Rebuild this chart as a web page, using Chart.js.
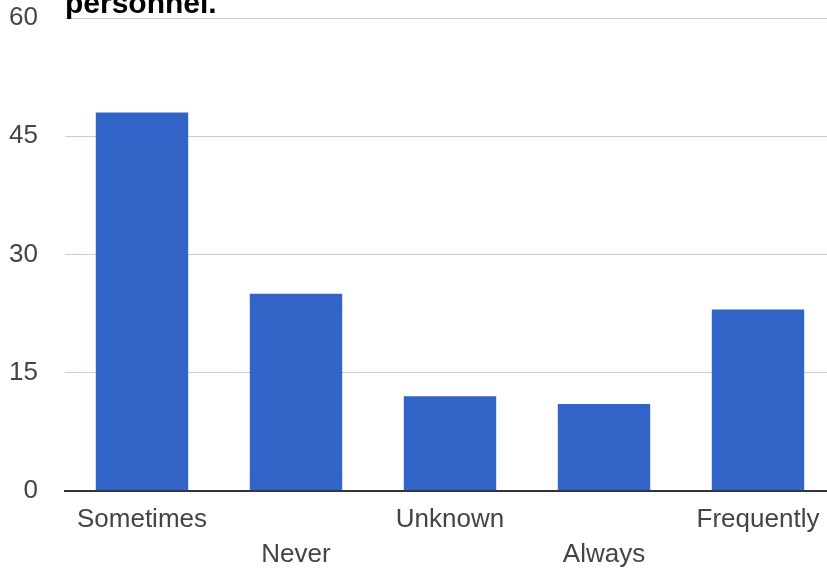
<!DOCTYPE html>
<html>
<head>
<meta charset="utf-8">
<script src="https://cdn.jsdelivr.net/npm/chart.js@4/dist/chart.umd.min.js"></script>
<style>
  html, body { margin: 0; padding: 0; background: #fff; overflow: hidden; width: 827px; height: 569px; }
  #wrap { position: absolute; left: 0; top: -30px; width: 840px; height: 613px; }
</style>
</head>
<body>
<div id="wrap"><canvas id="grafico"></canvas></div>
<script>
// categories (second-row labels are pushed down with an empty first line)
var categorias = ["Sometimes", ["", "Never"], "Unknown", ["", "Always"], "Frequently"];
var valores = [48, 25, 12, 11, 23];
var tituloLinhas = ["personnel."];
var eixoY = { min: 0, max: 60, passo: 15 };

var fonte = 'Arial, "Liberation Sans", sans-serif';

var config = {
    type: "bar",
    data: {
        labels: categorias,
        datasets: [
            {
                label: "Responses",
                data: valores,
                backgroundColor: "#3264c8",
                borderWidth: 0,
                barPercentage: 0.6,
                categoryPercentage: 1.0
            }
        ]
    },
    options: {
        responsive: true,
        maintainAspectRatio: false,
        animation: false,
        layout: { padding: { left: 0, right: 5, top: 0, bottom: 0 } },
        plugins: {
            legend: { display: false },
            tooltip: { enabled: false },
            title: {
                display: true,
                text: tituloLinhas,
                align: "start",
                fullSize: false,
                color: "#000",
                font: { family: fonte, size: 30, weight: "bold", lineHeight: 1.0 },
                padding: { top: 20, bottom: -2 }
            }
        },
        scales: {
            x: {
                grid: { display: false, drawTicks: false },
                border: { display: true, color: "#333", width: 2 },
                ticks: {
                    color: "#444",
                    font: { family: fonte, size: 26, lineHeight: 1.35 },
                    padding: 11,
                    maxRotation: 0,
                    autoSkip: false
                }
            },
            y: {
                min: eixoY.min,
                max: eixoY.max,
                grid: { color: "#cccccc", lineWidth: 1, drawTicks: false },
                border: { display: false },
                ticks: {
                    stepSize: eixoY.passo,
                    color: "#444",
                    font: { family: fonte, size: 26 },
                    padding: 27
                },
                afterFit: function (escala) { escala.width = 65; }
            }
        }
    }
};

var graficoRespostas = new Chart(document.getElementById("grafico"), config);
</script>
</body>
</html>
